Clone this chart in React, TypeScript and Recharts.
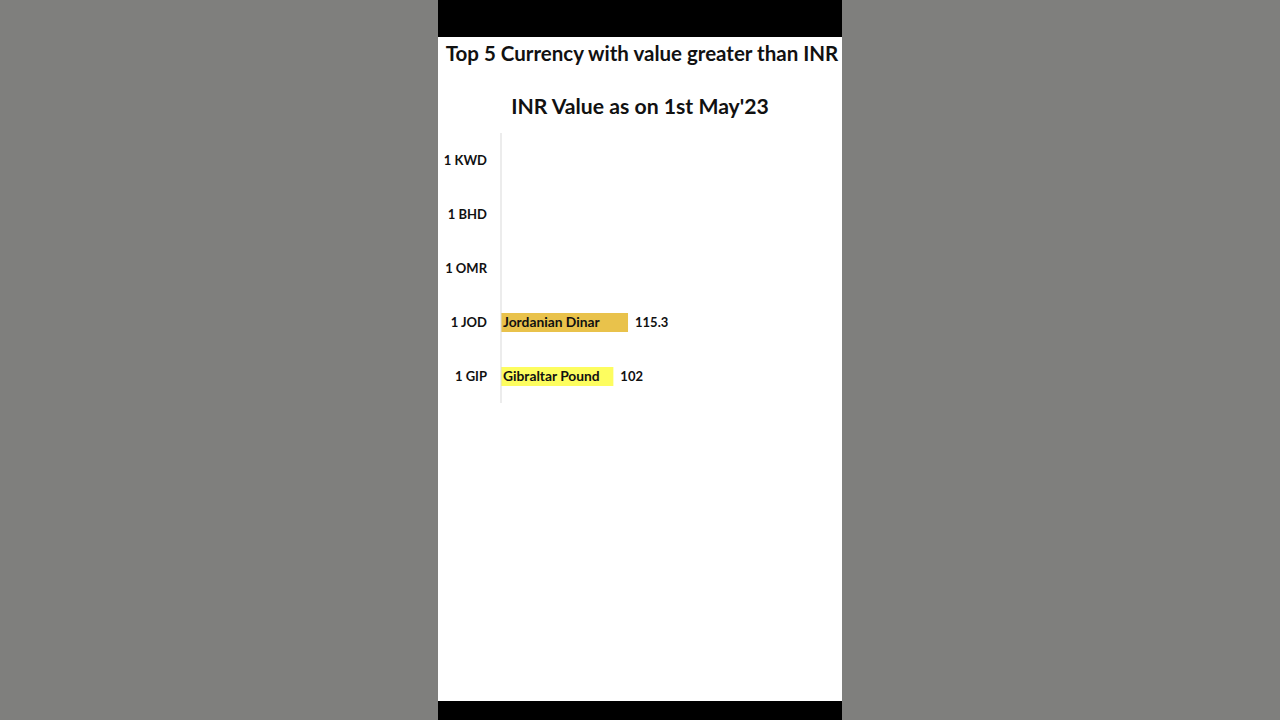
import { Bar, BarChart, Cell, LabelList, XAxis, YAxis } from "recharts";

const categories = ["1 KWD", "1 BHD", "1 OMR", "1 JOD", "1 GIP"];
const currencyNames = [null, null, null, "Jordanian Dinar", "Gibraltar Pound"];
const inrValues = [null, null, null, 115.3, 102];
const barColors = ["#e9c24b", "#e9c24b", "#e9c24b", "#e9c24b", "#fdfd5f"];

const chartData = categories.map((code, i) => ({
  code,
  name: currencyNames[i],
  value: inrValues[i],
}));

const FONT = "Lato, 'Open Sans', sans-serif";

function NameLabel(props: any) {
  const { x, y, height, value } = props;
  if (value == null) return null;
  return (
    <text x={x + 2} y={y + height / 2 + 1} dominantBaseline="middle" fontSize={13.8} fontWeight={700} fill="#111" fontFamily={FONT}>
      {value}
    </text>
  );
}

function ValueLabel(props: any) {
  const { x, y, width, height, value } = props;
  if (value == null) return null;
  return (
    <text x={x + width + 7} y={y + height / 2 + 1} dominantBaseline="middle" fontSize={13} fontWeight={700} fill="#111" fontFamily={FONT}>
      {value}
    </text>
  );
}

export default function App() {
  return (
    <div style={{ position: "fixed", left: 0, top: 0, width: 1280, height: 720, background: "#7f7f7d", overflow: "hidden" }}>
      <div style={{ position: "absolute", left: 438, top: 0, width: 404, height: 720, background: "#000" }} />
      <div style={{ position: "absolute", left: 438, top: 37, width: 404, height: 664, background: "#fff" }} />
      <div
        style={{
          position: "absolute",
          left: 440,
          top: 41,
          width: 404,
          textAlign: "center",
          fontFamily: FONT,
          fontWeight: 700,
          fontSize: 20.5,
          color: "#111",
          whiteSpace: "nowrap",
        }}
      >
        Top 5 Currency with value greater than INR
      </div>
      <div
        style={{
          position: "absolute",
          left: 438,
          top: 93,
          width: 404,
          textAlign: "center",
          fontFamily: FONT,
          fontWeight: 700,
          fontSize: 21.2,
          color: "#111",
          whiteSpace: "nowrap",
        }}
      >
        INR Value as on 1st May'23
      </div>
      <div style={{ position: "absolute", left: 438, top: 133 }}>
        <BarChart
          width={404}
          height={270}
          data={chartData}
          layout="vertical"
          margin={{ top: 0, right: 10.5, left: 0, bottom: 0 }}
        >
          <XAxis type="number" domain={[0, 300]} hide />
          <YAxis
            type="category"
            dataKey="code"
            width={63}
            axisLine={{ stroke: "#d9d9d9" }}
            tickLine={false}
            tickMargin={8}
            tick={{ fontSize: 13, fontWeight: 700, fill: "#111", fontFamily: FONT }}
          />
          <Bar dataKey="value" barSize={19} isAnimationActive={false}>
            {chartData.map((d, i) => (
              <Cell key={d.code} fill={barColors[i]} />
            ))}
            <LabelList dataKey="name" content={NameLabel} />
            <LabelList dataKey="value" content={ValueLabel} />
          </Bar>
        </BarChart>
      </div>
    </div>
  );
}
